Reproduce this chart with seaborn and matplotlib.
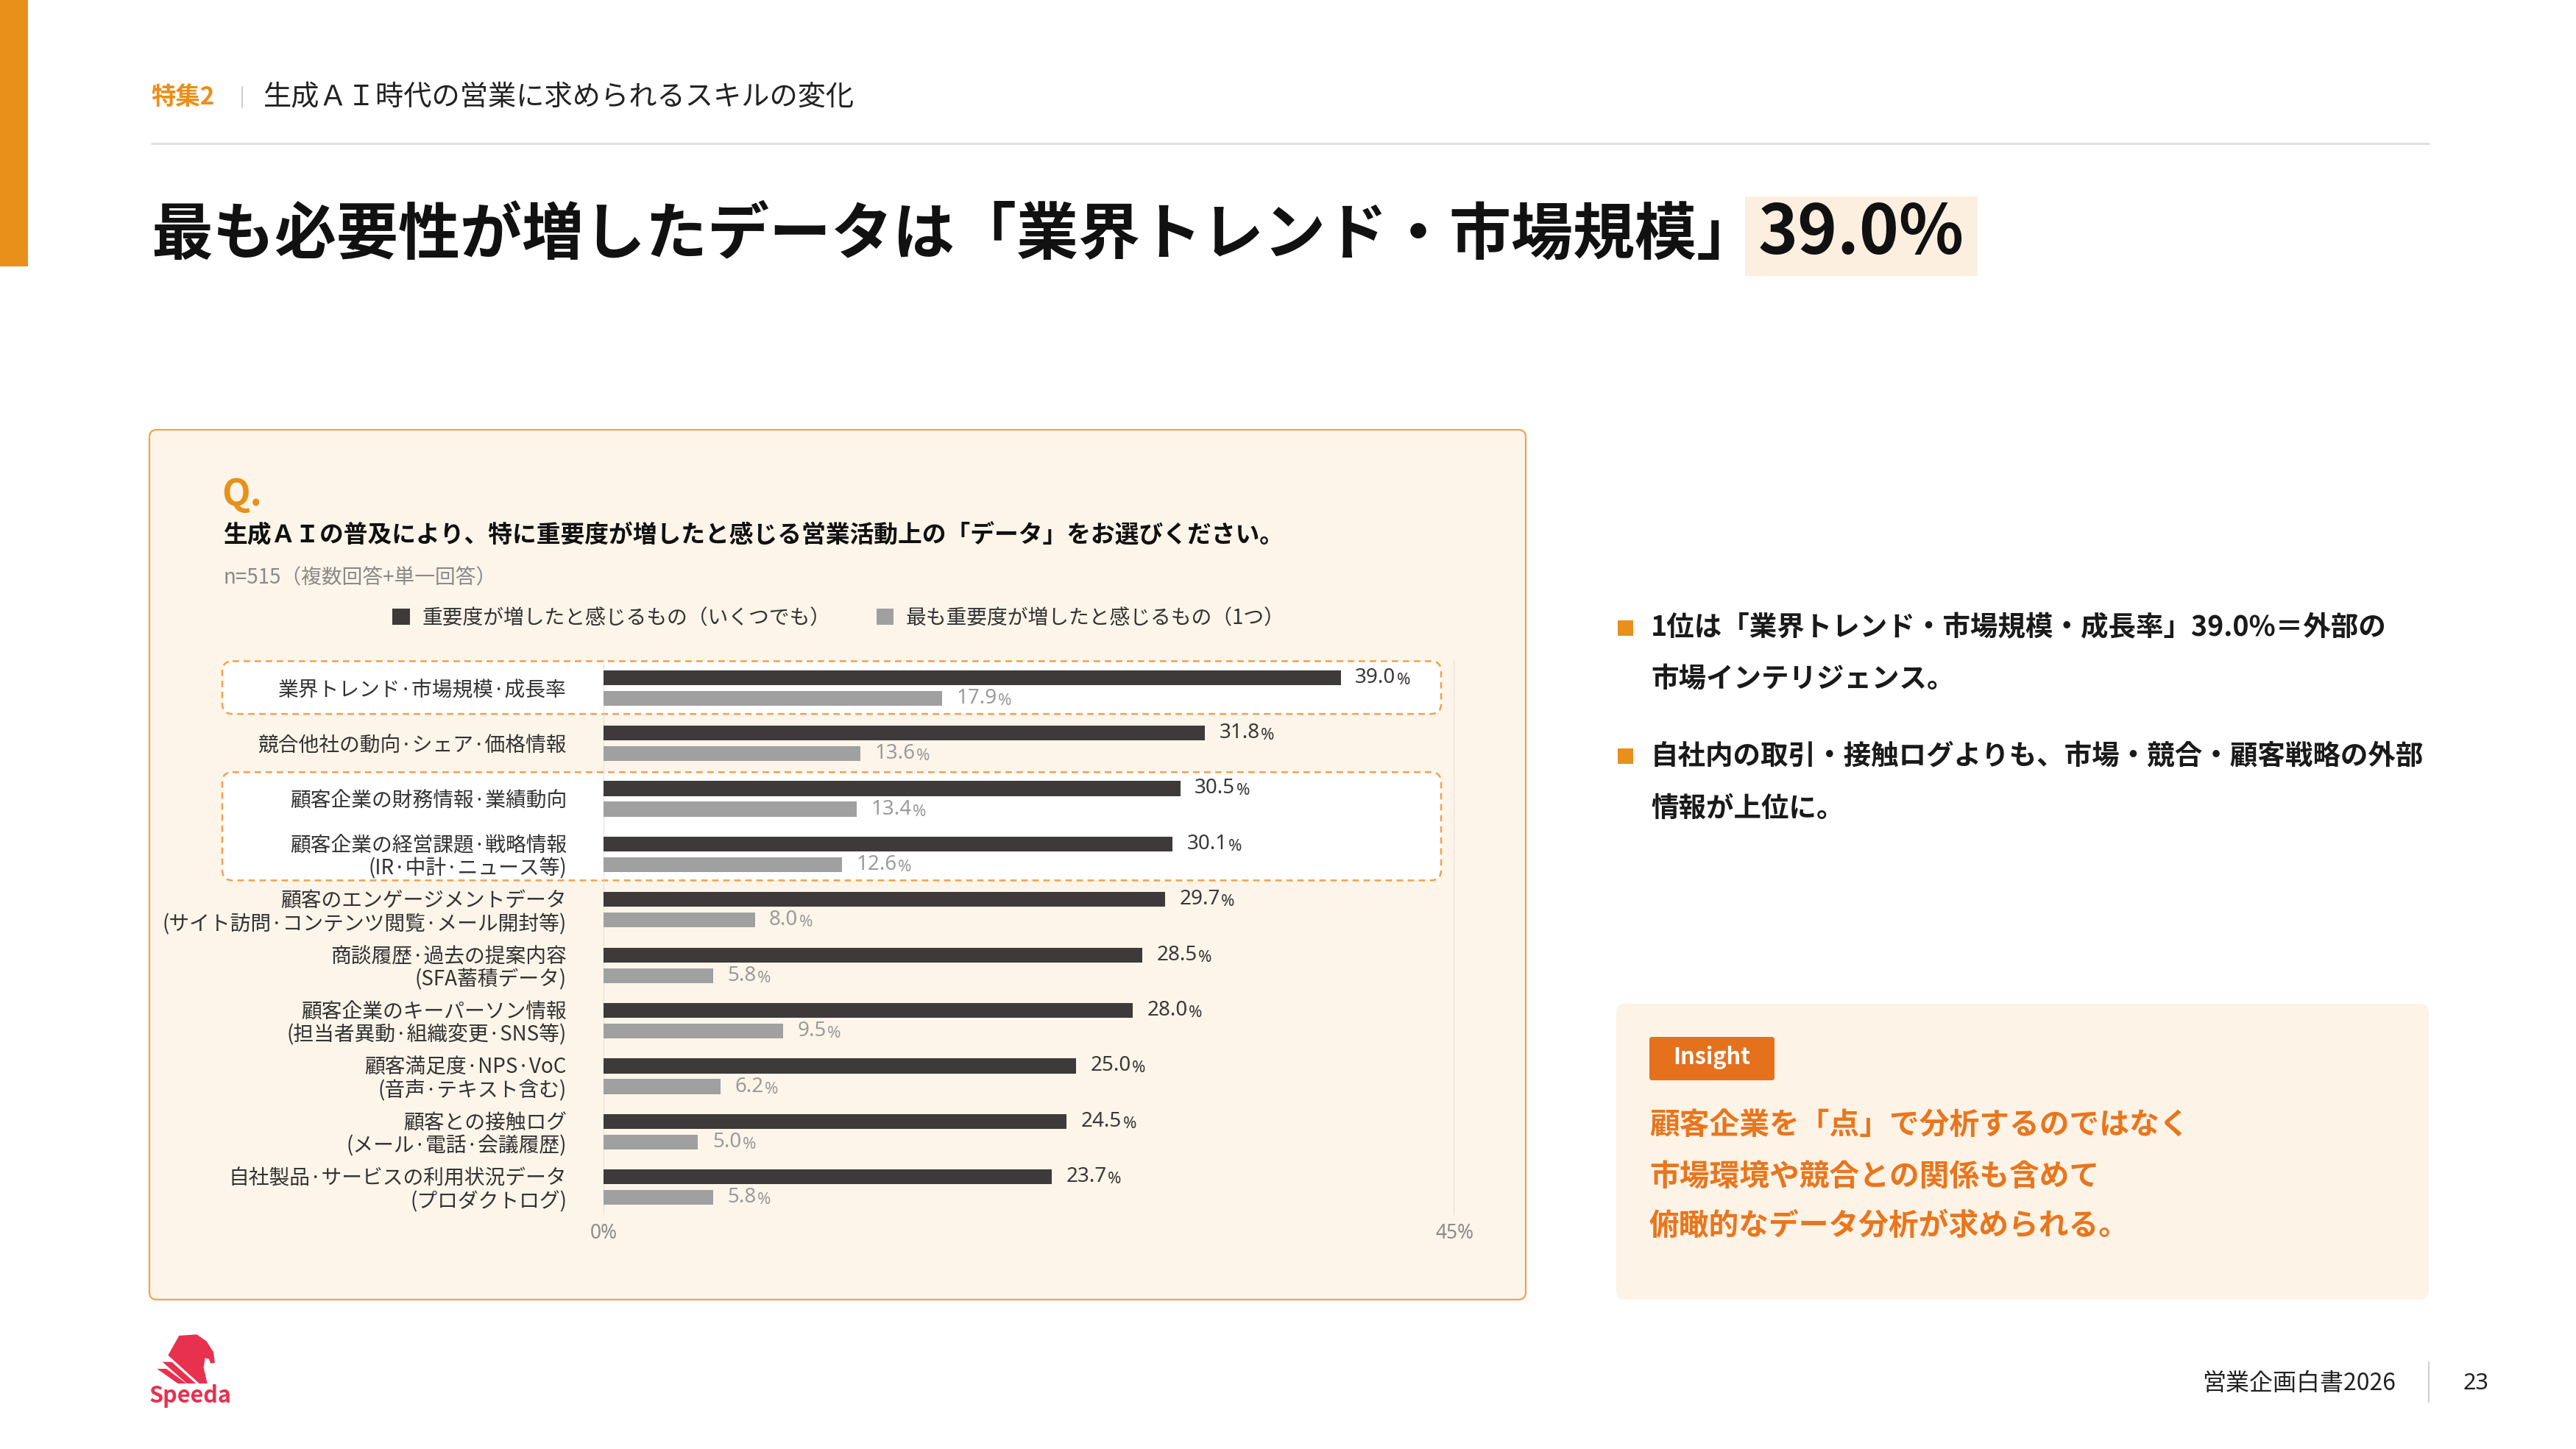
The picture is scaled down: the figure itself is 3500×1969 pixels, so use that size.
import pandas as pd
import seaborn as sns
import matplotlib.pyplot as plt
from matplotlib.patches import FancyBboxPatch, Rectangle, Polygon

# ---- data -------------------------------------------------------------
categories = [
    "業界トレンド·市場規模·成長率",
    "競合他社の動向·シェア·価格情報",
    "顧客企業の財務情報·業績動向",
    "顧客企業の経営課題·戦略情報\n(IR·中計·ニュース等)",
    "顧客のエンゲージメントデータ\n(サイト訪問·コンテンツ閲覧·メール開封等)",
    "商談履歴·過去の提案内容\n(SFA蓄積データ)",
    "顧客企業のキーパーソン情報\n(担当者異動·組織変更·SNS等)",
    "顧客満足度·NPS·VoC\n(音声·テキスト含む)",
    "顧客との接触ログ\n(メール·電話·会議履歴)",
    "自社製品·サービスの利用状況データ\n(プロダクトログ)",
]
series = ["重要度が増したと感じるもの（いくつでも）", "最も重要度が増したと感じるもの（1つ）"]
any_values = [39.0, 31.8, 30.5, 30.1, 29.7, 28.5, 28.0, 25.0, 24.5, 23.7]
top_values = [17.9, 13.6, 13.4, 12.6, 8.0, 5.8, 9.5, 6.2, 5.0, 5.8]
x_ticks = [0, 45]
x_tick_labels = ["0%", "45%"]
# rows framed by the dashed orange boxes (first, last)
highlight_rows = [(0, 0), (2, 3)]

bullets = [
    ["1位は「業界トレンド・市場規模・成長率」39.0%＝外部の", "市場インテリジェンス。"],
    ["自社内の取引・接触ログよりも、市場・競合・顧客戦略の外部", "情報が上位に。"],
]
insight_lines = [
    "顧客企業を「点」で分析するのではなく",
    "市場環境や競合との関係も含めて",
    "俯瞰的なデータ分析が求められる。",
]

# ---- style ------------------------------------------------------------
W, H = 3500, 1969
DARK = "#3e3a39"
GRAY = "#a0a0a0"
ORANGE = "#e8901a"
ORANGE2 = "#e8761e"
CREAM = "#fdf5ea"
LATIN = ["Noto Sans", "Noto Sans CJK JP", "DejaVu Sans"]
BOLD_LATIN = ["Noto Sans CJK JP", "DejaVu Sans"]

sns.set_style("white")
plt.rcParams["font.family"] = ["Noto Sans CJK JP", "DejaVu Sans"]

fig = plt.figure(figsize=(W / 100, H / 100), dpi=100)
fig.patch.set_facecolor("white")

# page layer in pixel coordinates
page = fig.add_axes([0, 0, 1, 1], zorder=0)
page.set_xlim(0, W)
page.set_ylim(H, 0)
page.axis("off")

# header
page.add_patch(Rectangle((0, 0), 38, 362, color=ORANGE, lw=0))
page.text(205, 132, "特集2", fontsize=24, fontweight="bold", color=ORANGE, va="center")
page.plot([329, 329], [118, 146], color="#cfcfcf", lw=1.5)
page.text(358, 132, "生成ＡＩ時代の営業に求められるスキルの変化", fontsize=27.5, color="#222222", va="center")
page.plot([206, 3300], [195, 195], color="#dedede", lw=2)

# title
page.text(205, 320, "最も必要性が増したデータは「業界トレンド・市場規模」",
          fontsize=60.5, fontweight="bold", color="#111111", va="center")
page.add_patch(Rectangle((2371, 267), 316, 108, color="#fdefdf", lw=0))
page.text(2529, 318, "39.0%", fontsize=66, fontweight="bold", color="#111111",
          va="center", ha="center", family=BOLD_LATIN)

# chart panel
page.add_patch(FancyBboxPatch((203, 584), 1870, 1182, boxstyle="round,pad=0,rounding_size=10",
                              fc=CREAM, ec="#f2a44b", lw=1.6))
page.text(301, 672, "Q.", fontsize=36, fontweight="bold", color=ORANGE, va="center", family=BOLD_LATIN)
page.text(303, 728, "生成ＡＩの普及により、特に重要度が増したと感じる営業活動上の「データ」をお選びください。",
          fontsize=23.6, fontweight="bold", color="#111111", va="center")
page.text(303, 785, "n=515（複数回答+単一回答）", fontsize=20, color="#8a8a8a", va="center")

# ---- bar chart --------------------------------------------------------
ax = fig.add_axes([820 / W, 1 - 1651 / H, 1156 / W, 754 / H], zorder=2)
ax.patch.set_alpha(0)

df = pd.DataFrame({
    "項目": categories * 2,
    "系列": [series[0]] * len(categories) + [series[1]] * len(categories),
    "値": any_values + top_values,
})
sns.barplot(data=df, x="値", y="項目", hue="系列", hue_order=series, order=categories,
            palette=[DARK, GRAY], orient="h", width=0.744, gap=0.28,
            saturation=1, linewidth=0, errorbar=None, ax=ax)

ax.set_xlim(0, 45)
ax.set_ylim(len(categories) - 0.5, -0.5)
for s in ax.spines.values():
    s.set_visible(False)
for xv in x_ticks:
    ax.axvline(xv, color="#dcdcdc", lw=1.3, zorder=0)
ax.set_xlabel("")
ax.set_ylabel("")
ax.set_xticks(x_ticks, x_tick_labels)
ax.set_yticks(range(len(categories)), categories)
ax.tick_params(axis="x", length=0, pad=8, labelsize=19, labelcolor="#8c8c8c")
ax.tick_params(axis="y", length=0, pad=36, labelsize=20, labelcolor="#333333")
for lbl in ax.get_xticklabels():
    lbl.set_family(LATIN)
for lbl in ax.get_yticklabels():
    lbl.set_linespacing(1.05)

# value labels, "%" a little smaller
label_colors = ["#3b3838", "#9b9b9b"]
for cont, vals, col in zip(ax.containers, [any_values, top_values], label_colors):
    for bar, v in zip(cont, vals):
        yc = bar.get_y() + bar.get_height() / 2
        t = ax.annotate(f"{v:.1f}", xy=(bar.get_width(), yc), xytext=(14, 0),
                        textcoords="offset points", ha="left", va="center",
                        fontsize=20, color=col, family=LATIN)
        ax.annotate("%", xy=(1, 0), xycoords=t, xytext=(1, 0), textcoords="offset points",
                    ha="left", va="bottom", fontsize=16, color=col, family=LATIN)

handles, _ = ax.get_legend_handles_labels()
ax.legend(handles, series, loc="center left", bbox_to_anchor=(533 / W, 1 - 840 / H),
          bbox_transform=fig.transFigure, ncol=2, frameon=False, fontsize=20,
          handlelength=0.85, handleheight=0.85, handletextpad=0.6, columnspacing=2.25,
          borderpad=0, borderaxespad=0, labelcolor="#333333")

# dashed highlight boxes behind the bars
for first, last in highlight_rows:
    top = H - ax.transData.transform((0, first - 0.48))[1]
    bottom = H - ax.transData.transform((0, last + 0.47))[1]
    page.add_patch(FancyBboxPatch((302, top), 1656, bottom - top,
                                  boxstyle="round,pad=0,rounding_size=14",
                                  fc="white", ec="#f5a04a", lw=1.8, ls=(0, (3.5, 2.5))))

# ---- right column -----------------------------------------------------
line_y = [[853, 922], [1027, 1098]]
for lines, ys in zip(bullets, line_y):
    page.add_patch(Rectangle((2198, ys[0] - 10), 21, 21, color=ORANGE, lw=0))
    for txt, y in zip(lines, ys):
        page.text(2243, y, txt, fontsize=27, fontweight="bold", color="#1a1a1a", va="center")

page.add_patch(FancyBboxPatch((2196, 1364), 1104, 402, boxstyle="round,pad=0,rounding_size=12",
                              fc="#fdf3e6", ec="none"))
page.add_patch(FancyBboxPatch((2241, 1409), 170, 59, boxstyle="round,pad=0,rounding_size=4",
                              fc="#e5711d", ec="none"))
page.text(2326, 1437, "Insight", fontsize=22, fontweight="bold", color="white",
          ha="center", va="center", family=BOLD_LATIN)
for txt, y in zip(insight_lines, [1529, 1599, 1666]):
    page.text(2241, y, txt, fontsize=29.3, fontweight="bold", color=ORANGE2, va="center")

# ---- footer -----------------------------------------------------------
RED = "#e8304f"
zx = lambda px: 180 + px / 3
zy = lambda py: 1780 + py / 3
head = [(145, 185), (190, 105), (262, 100), (302, 128), (330, 172), (336, 216), (318, 218),
        (312, 200), (296, 196), (290, 235), (305, 300), (272, 300)]
stripe1 = [(122, 212), (160, 212), (258, 300), (222, 300)]
stripe2 = [(100, 240), (138, 240), (220, 300), (185, 300)]
for poly in (head, stripe1, stripe2):
    page.add_patch(Polygon([(zx(a), zy(b)) for a, b in poly], closed=True, color=RED, lw=0))
page.text(203, 1897, "Speeda", fontsize=22, fontweight="bold", color=RED, va="center", family=BOLD_LATIN)

page.text(2992, 1880, "営業企画白書2026", fontsize=23, color="#222222", va="center")
page.plot([3300, 3300], [1851, 1905], color="#d0d0d0", lw=1.5)
page.text(3347, 1880, "23", fontsize=22, color="#222222", va="center", family=LATIN)

fig.savefig("out.png", dpi=100, facecolor="white")
